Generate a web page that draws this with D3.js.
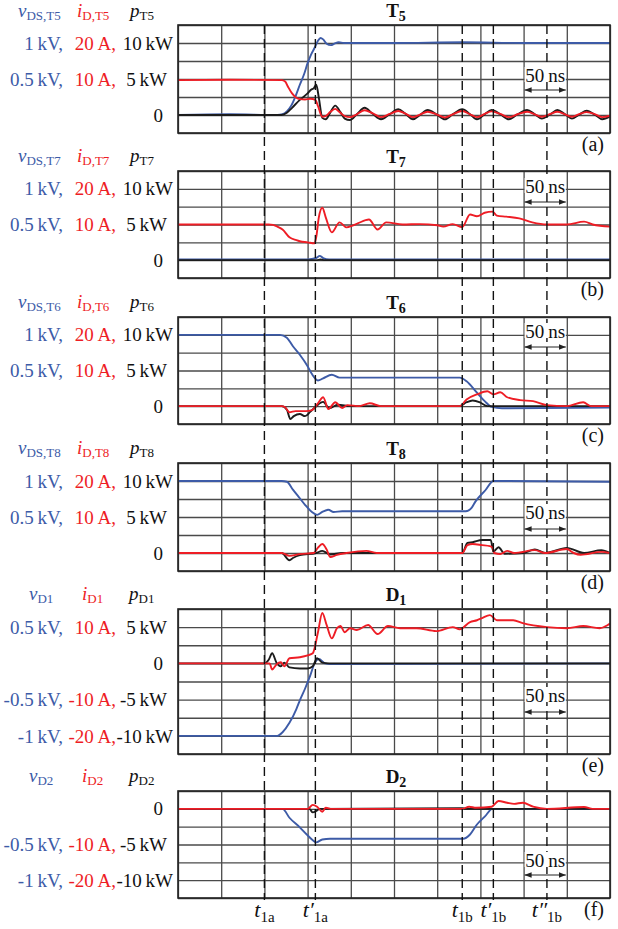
<!DOCTYPE html>
<html>
<head>
<meta charset="utf-8">
<script src="https://cdn.jsdelivr.net/npm/d3@7"></script>
<style>
  body { margin: 0; background: #fff; }
  svg { display: block; font-family: "Liberation Serif", "Times New Roman", serif; }
</style>
</head>
<body>
<div id="chart"></div>
<script>
// time axis in ns, one division = 50 ns
var timeTicks = d3.range(0, 501, 50);
var markTimes = [100, 159, 329, 365, 427];
var markPrimes = ["", "\u2032", "", "\u2032", "\u2033"];
var markSubs = ["1a", "1a", "1b", "1b", "1b"];

// tick label rows: [level in kV, voltage text, current text, power text]
var rowsT = [[1, "1\u2009kV,", "20\u2009A,", "10\u2009kW"], [0.5, "0.5\u2009kV,", "10\u2009A,", "5\u2009kW"], [0, "", "", "0"]];
var rowsD1 = [[0.5, "0.5\u2009kV,", "10\u2009A,", "5\u2009kW"], [0, "", "", "0"], [-0.5, "-0.5\u2009kV,", "-10\u2009A,", "-5\u2009kW"], [-1, "-1\u2009kV,", "-20\u2009A,", "-10\u2009kW"]];
var rowsD2 = [[0, "", "", "0"], [-0.5, "-0.5\u2009kV,", "-10\u2009A,", "-5\u2009kW"], [-1, "-1\u2009kV,", "-20\u2009A,", "-10\u2009kW"]];

// traces: [t ns, value]  v in kV, i in A, p in kW
var vT5 = [[0,0],[60,0.01],[115,0],[121,0.01],[126,0.05],[131,0.13],[136,0.26],[141,0.42],[146,0.57],[150,0.72],[154,0.84],[158,0.93],[162,1.03],[165,1.07],[168,1.05],[172,0.99],[177,0.97],[181,0.99],[186,1.01],[192,1.0],[250,1.0],[330,1.01],[400,1.0],[500,1.0]];
var iT5 = [[0,9.7],[60,9.8],[120,9.7],[124,9.3],[127,8.0],[132,6.0],[137,4.8],[141,4.4],[147,4.3],[153,4.5],[159,4.2],[162,2.5],[167,-0.5],[171,-0.3],[176,0.8],[182,1.7],[187,0.8],[193,-0.3],[199,-0.6],[207,0.2],[216,1.3],[225,0.5],[235,-0.6],[245,0.3],[255,1.1],[263,0.4],[272,-0.6],[280,0.1],[289,0.9],[299,0.2],[309,-0.7],[318,0.2],[329,1.1],[338,0.2],[346,-0.6],[355,0.3],[363,1.0],[373,0.3],[383,-0.6],[393,0.2],[404,0.9],[413,0.2],[421,-0.5],[431,0.3],[439,0.9],[448,0.2],[456,-0.5],[465,0.3],[473,0.8],[483,0.2],[491,-0.6],[500,-0.2]];
var pT5 = [[0,0],[120,0],[126,0.3],[132,1.0],[141,2.1],[150,3.0],[154,3.5],[157,3.7],[160,4.2],[163,2.4],[167,-0.4],[171,-0.6],[176,0.3],[182,1.3],[188,0.4],[193,-0.5],[199,-0.7],[207,0.1],[216,1.0],[225,0.2],[235,-0.6],[245,0.1],[255,0.8],[263,0.2],[272,-0.6],[280,0],[289,0.7],[299,0.1],[309,-0.6],[318,0.1],[329,0.8],[338,0.1],[346,-0.6],[355,0.1],[363,0.7],[373,0.1],[383,-0.6],[393,0.1],[404,0.7],[413,0.1],[421,-0.5],[431,0.1],[439,0.7],[448,0.1],[456,-0.5],[465,0.1],[473,0.6],[483,0],[491,-0.6],[500,-0.2]];

var vT7 = [[0,0.01],[150,0.01],[160,0.03],[164,0.06],[168,0.03],[175,0.01],[500,0.01]];
var iT7 = [[0,10.0],[105,10.0],[110,9.9],[115,9.4],[121,8.6],[129,6.4],[137,5.6],[141,5.3],[150,5.0],[158,4.7],[160,6.5],[163,12.0],[167,14.7],[171,12.0],[178,7.8],[187,10.6],[195,9.2],[202,9.7],[208,10.3],[221,11.4],[231,8.6],[241,10.6],[260,10.0],[280,10.1],[300,9.8],[307,9.4],[318,10.1],[329,9.3],[338,12.8],[346,12.3],[355,13.3],[364,13.6],[369,12.5],[380,12.2],[395,11.7],[410,10.6],[427,10.0],[450,10.0],[470,10.8],[480,10.0],[500,9.4]];
var pT7 = [[0,0],[160,0],[165,0.1],[170,0],[500,0]];

var vT6 = [[0,1.0],[118,1.0],[126,0.96],[133,0.84],[141,0.72],[150,0.56],[155,0.45],[162,0.36],[168,0.39],[178,0.44],[187,0.40],[250,0.40],[326,0.40],[334,0.35],[346,0.19],[355,0.07],[363,-0.01],[375,-0.03],[500,-0.02]];
var iT6 = [[0,0],[120,0],[124,-0.3],[129,-1.7],[136,-1.4],[148,-1.4],[155,-1.1],[162,0.8],[168,2.5],[174,-0.8],[182,1.1],[190,-0.5],[196,0.3],[210,0],[222,0.8],[235,0],[326,0],[334,1.9],[346,3.3],[358,4.2],[365,3.3],[373,3.9],[381,2.5],[396,1.7],[411,1.4],[427,0.3],[450,0],[469,1.1],[478,0],[500,0]];
var pT6 = [[0,0],[120,0],[126,-0.5],[130,-1.8],[134,-1.4],[141,-1.1],[147,-1.4],[153,-0.8],[160,0],[168,0.6],[175,-0.3],[185,0.2],[200,0],[326,0],[334,0.55],[341,0.8],[350,0.5],[358,0],[500,0]];

var vT8 = [[0,1.0],[120,1.0],[126,0.99],[133,0.88],[141,0.76],[147,0.67],[155,0.57],[161,0.53],[167,0.57],[174,0.60],[180,0.57],[190,0.58],[333,0.58],[340,0.63],[344,0.71],[356,0.875],[365,1.0],[373,1.0],[500,0.99]];
var iT8 = [[0,0],[120,0],[129,-0.8],[141,-0.3],[157,0],[162,1.5],[167,2.5],[172,1.0],[176,-1.1],[184,-0.5],[195,0],[218,0.6],[230,0],[329,0],[335,2.2],[341,2.5],[352,2.2],[361,1.9],[364,1.5],[366,0],[373,-0.3],[381,0.6],[389,0],[413,0.8],[425,0],[450,1.1],[458,0],[466,-0.5],[490,0.3],[500,0]];
var pT8 = [[0,0],[120,0],[129,-1.0],[133,-0.7],[141,-0.3],[160,0],[167,0.3],[176,-0.2],[190,0],[329,0],[335,1.4],[341,1.5],[352,1.8],[362,1.8],[365,0.2],[371,0.8],[378,-0.1],[400,0],[413,0.5],[425,0],[450,0.7],[470,0],[490,0.4],[500,0]];

var vD1 = [[0,-1.0],[115,-1.0],[121,-0.95],[129,-0.82],[137,-0.63],[141,-0.51],[147,-0.35],[153,-0.17],[158,0],[163,0.06],[170,0],[176,-0.01],[500,0]];
var iD1 = [[0,0],[106,0],[109,-1.7],[114,-0.3],[119,0.3],[123,-0.8],[129,1.4],[141,1.7],[150,2.2],[156,2.8],[162,8.6],[167,13.9],[172,10.6],[178,6.9],[184,9.7],[188,10.3],[193,8.6],[199,9.7],[207,9.2],[220,10.6],[231,8.1],[243,10.3],[257,9.7],[276,9.7],[299,8.9],[318,10.0],[326,9.4],[338,11.4],[346,11.9],[352,12.5],[361,13.3],[369,11.9],[388,11.9],[399,11.1],[427,10.0],[450,9.7],[469,10.3],[488,9.7],[497,10.5],[500,11.0]];
var pD1 = [[0,0],[100,0],[105,0.5],[109,1.4],[114,0.1],[119,-0.4],[123,0.1],[129,-0.55],[141,-0.7],[150,-0.7],[156,-0.4],[161,0.7],[167,0.1],[175,0],[500,0]];

var vD2 = [[0,0],[121,0],[129,-0.125],[141,-0.26],[149,-0.36],[156,-0.44],[160,-0.47],[167,-0.43],[176,-0.42],[330,-0.42],[338,-0.36],[346,-0.22],[355,-0.11],[364,0],[500,0]];
var iD2 = [[0,0],[150,0],[156,1.1],[161,0.6],[167,-0.8],[171,0.3],[178,0],[329,0],[337,0.6],[345,0.3],[363,0.6],[371,2.2],[381,1.7],[389,1.4],[399,1.7],[411,0.6],[427,0],[470,0.5],[480,0],[500,0]];
var pD2 = [[0,0],[152,0],[156,-0.5],[160,-0.3],[164,0],[329,0.1],[333,0],[500,0]];

var W = 618, H = 929;
var colV = "#3d5ba7", colI = "#ee1d25", colP = "#1c1c1c";

var x = d3.scaleLinear().domain([0, 500]).range([178, 610]);

var panels = [
  {top:25,  bottom:133, lo:-0.25, hi:1.25, letter:"T", num:"5", sub:["DS,T5","D,T5","T5"], hx:[18,77,130], v:vT5, i:iT5, p:pT5, rows:rowsT,  tag:"(a)", nsY:75,  arY:90},
  {top:171, bottom:278, lo:-0.25, hi:1.25, letter:"T", num:"7", sub:["DS,T7","D,T7","T7"], hx:[18,77,130], v:vT7, i:iT7, p:pT7, rows:rowsT,  tag:"(b)", nsY:186, arY:202},
  {top:317, bottom:424, lo:-0.25, hi:1.25, letter:"T", num:"6", sub:["DS,T6","D,T6","T6"], hx:[18,77,130], v:vT6, i:iT6, p:pT6, rows:rowsT,  tag:"(c)", nsY:331, arY:347},
  {top:463, bottom:571, lo:-0.25, hi:1.25, letter:"T", num:"8", sub:["DS,T8","D,T8","T8"], hx:[18,77,130], v:vT8, i:iT8, p:pT8, rows:rowsT,  tag:"(d)", nsY:512, arY:529},
  {top:609, bottom:754, lo:-1.25, hi:0.75, letter:"D", num:"1", sub:["D1","D1","D1"],       hx:[29,82,129], v:vD1, i:iD1, p:pD1, rows:rowsD1, tag:"(e)", nsY:695, arY:712},
  {top:791, bottom:898, lo:-1.25, hi:0.25, letter:"D", num:"2", sub:["D2","D2","D2"],       hx:[29,82,129], v:vD2, i:iD2, p:pD2, rows:rowsD2, tag:"(f)", nsY:860, arY:875}
];

var svg = d3.select("#chart").append("svg")
  .attr("width", W)
  .attr("height", H);

var defs = svg.append("defs");
["arS", "arE"].forEach(function(id, k) {
  defs.append("marker")
    .attr("id", id)
    .attr("viewBox", "0 0 10 10")
    .attr("refX", k ? 10 : 0).attr("refY", 5)
    .attr("markerWidth", 7).attr("markerHeight", 7)
    .attr("markerUnits", "userSpaceOnUse")
    .attr("orient", "auto")
    .append("path")
    .attr("d", k ? "M0,1L10,5L0,9Z" : "M10,1L0,5L10,9Z")
    .attr("fill", "#222");
});

var plotW = x.range()[1] - x.range()[0];

panels.forEach(function(P, k) {
  var y = d3.scaleLinear().domain([P.lo, P.hi]).range([P.bottom, P.top]);
  var h = P.bottom - P.top;
  var g = svg.append("g");

  // grid
  g.append("g")
    .attr("transform", "translate(0," + P.bottom + ")")
    .call(d3.axisBottom(x).tickValues(timeTicks).tickSize(-h).tickFormat(""))
    .call(function(s) {
      s.select(".domain").remove();
      s.selectAll("line").attr("stroke", "#4a4a4a").attr("stroke-width", 1.3);
    });
  g.append("g")
    .attr("transform", "translate(" + x(0) + ",0)")
    .call(d3.axisLeft(y).tickValues(d3.range(P.lo, P.hi + 0.001, 0.25)).tickSize(-plotW).tickFormat(""))
    .call(function(s) {
      s.select(".domain").remove();
      s.selectAll("line").attr("stroke", "#4a4a4a").attr("stroke-width", 1.3);
    });

  defs.append("clipPath").attr("id", "clip" + k)
    .append("rect").attr("x", x(0)).attr("y", P.top).attr("width", plotW).attr("height", h);

  var traces = [
    {data: P.v, k: 1,    col: colV},
    {data: P.p, k: 0.1,  col: colP},
    {data: P.i, k: 0.05, col: colI}
  ];
  traces.forEach(function(tr) {
    var line = d3.line()
      .x(function(d) { return x(d[0]); })
      .y(function(d) { return y(d[1] * tr.k); })
      .curve(d3.curveMonotoneX);
    g.append("path")
      .attr("clip-path", "url(#clip" + k + ")")
      .attr("d", line(tr.data))
      .attr("fill", "none")
      .attr("stroke", tr.col)
      .attr("stroke-width", 1.9)
      .attr("stroke-linejoin", "round");
  });

  // frame
  g.append("rect")
    .attr("x", x(0)).attr("y", P.top)
    .attr("width", plotW).attr("height", h)
    .attr("fill", "none").attr("stroke", "#222").attr("stroke-width", 1.6);

  // tick labels
  P.rows.forEach(function(r) {
    var yy = y(r[0]);
    if (r[1]) {
      g.append("text").attr("x", 63).attr("y", yy).attr("dy", "0.35em")
        .attr("text-anchor", "end").attr("font-size", 19).attr("fill", colV).text(r[1]);
      g.append("text").attr("x", 116).attr("y", yy).attr("dy", "0.35em")
        .attr("text-anchor", "end").attr("font-size", 19).attr("fill", colI).text(r[2]);
    }
    var bx = r[3] === "0" ? 163 : (r[3].indexOf("10") >= 0 ? 173 : 167);
    g.append("text").attr("x", bx).attr("y", yy).attr("dy", "0.35em")
      .attr("text-anchor", "end").attr("font-size", 19).attr("fill", "#111").text(r[3]);
  });

  // header: v, i, p symbols
  var hy = Math.max(P.top - 9, 17);
  var syms = ["v", "i", "p"];
  var cols = [colV, colI, "#111"];
  syms.forEach(function(s, j) {
    var t = g.append("text").attr("x", P.hx[j]).attr("y", hy).attr("fill", cols[j]);
    t.append("tspan").attr("font-style", "italic").attr("font-size", 19).text(s);
    t.append("tspan").attr("font-size", 13).attr("dy", 3).text(P.sub[j]);
  });

  // title
  var tt = g.append("text").attr("x", 396).attr("y", Math.max(P.top - 8, 17))
    .attr("text-anchor", "middle").attr("font-weight", "bold").attr("fill", "#111");
  tt.append("tspan").attr("font-size", 19).text(P.letter);
  tt.append("tspan").attr("font-size", 14).attr("dy", 4).text(P.num);

  // panel tag
  g.append("text").attr("x", 604).attr("y", P.bottom + 18)
    .attr("text-anchor", "end").attr("font-size", 20).attr("fill", "#111").text(P.tag);
});

// dashed time markers across all panels
svg.append("g").selectAll("line")
  .data(markTimes)
  .enter().append("line")
  .attr("x1", function(d) { return x(d); })
  .attr("x2", function(d) { return x(d); })
  .attr("y1", panels[0].top)
  .attr("y2", panels[5].bottom + 2)
  .attr("stroke", "#111")
  .attr("stroke-width", 1.4)
  .attr("stroke-dasharray", "9,5");

// 50 ns scale marks
panels.forEach(function(P) {
  var g = svg.append("g");
  var cx = (x(400) + x(450)) / 2;
  g.append("rect").attr("x", x(400) + 1).attr("y", P.nsY - 8)
    .attr("width", x(450) - x(400) - 2).attr("height", 15).attr("fill", "#fff");
  g.append("text").attr("x", cx).attr("y", P.nsY).attr("dy", "0.35em")
    .attr("text-anchor", "middle").attr("font-size", 19).attr("fill", "#111").text("50\u2009ns");
  g.append("line")
    .attr("x1", x(400) + 1).attr("x2", x(450) - 1)
    .attr("y1", P.arY).attr("y2", P.arY)
    .attr("stroke", "#222").attr("stroke-width", 1)
    .attr("marker-start", "url(#arS)").attr("marker-end", "url(#arE)");
});

// time labels under the last panel
var lab = svg.append("g").selectAll("text")
  .data(markTimes)
  .enter().append("text")
  .attr("x", function(d) { return x(d); })
  .attr("y", 917)
  .attr("text-anchor", "middle")
  .attr("fill", "#111");
lab.append("tspan").attr("font-style", "italic").attr("font-size", 22)
  .text(function(d, j) { return "t" + markPrimes[j]; });
lab.append("tspan").attr("font-size", 15).attr("dy", 5)
  .text(function(d, j) { return markSubs[j]; });
</script>
</body>
</html>
